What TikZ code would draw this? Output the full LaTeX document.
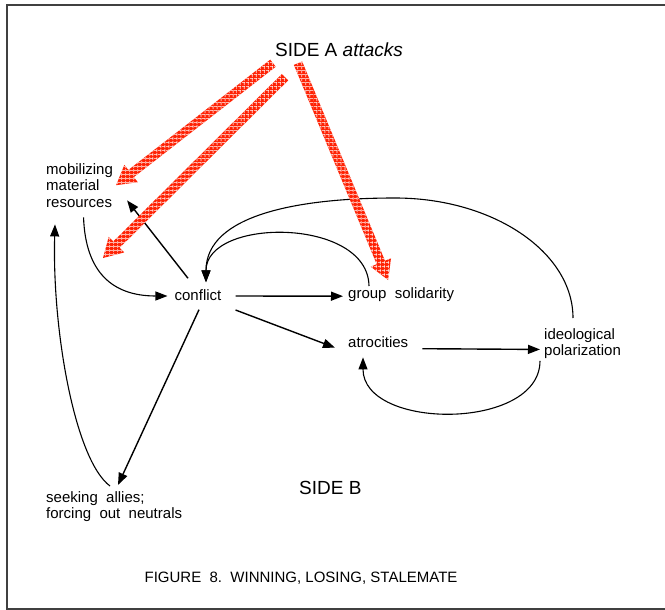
\documentclass[tikz,border=0pt]{standalone}
\usepackage{fontspec}
\setmainfont{Liberation Sans}
\usetikzlibrary{arrows.meta,calc,patterns.meta}
\definecolor{attackred}{RGB}{255,35,5}

% wide hatched arrow: #1 tail, #2 tip
\newcommand{\attackarrow}[2]{%
  \coordinate (at-tail) at #1;
  \coordinate (at-tip) at #2;
  \coordinate (at-neck) at ($(at-tip)!19pt!(at-tail)$);
  \fill[attack] ($(at-tail)!4.5pt!90:(at-tip)$) -- ($(at-neck)!4.5pt!90:(at-tip)$)
    -- ($(at-neck)!11pt!90:(at-tip)$) -- (at-tip) -- ($(at-neck)!11pt!-90:(at-tip)$)
    -- ($(at-neck)!4.5pt!-90:(at-tip)$) -- ($(at-tail)!4.5pt!-90:(at-tip)$) -- cycle;
}

\begin{document}
\begin{tikzpicture}[x=1pt, y=-1pt,
    every node/.style={inner sep=0pt},
    lbl/.style={align=left, font=\fontsize{15}{16.5}\selectfont},
    side/.style={font=\fontsize{19}{22}\selectfont},
    arr/.style={-{Triangle[length=12pt,width=9pt]}, line width=1.4pt},
    curvearr/.style={-{Triangle[length=12pt,width=9pt]}, line width=1.1pt},
    attack/.style={fill=attackred,
      postaction={pattern color=white, pattern={Lines[angle=0,distance=4pt,line width=.6pt]}},
      postaction={pattern color=white, pattern={Lines[angle=90,distance=4pt,line width=.6pt]}}},
  ]
  \useasboundingbox (0,0) rectangle (665,610);
  % frame (right edge is off the page)
  \draw[line width=1.2pt, black!75] (668,5) -- (7,5) -- (7,609) -- (668,609);

  % headings
  \node[side] (sidea) at (339,50) {SIDE A \textit{attacks}};
  \node[side, anchor=west] (sideb) at (299,488) {SIDE B};
  \node[lbl] (caption) at (301,578) {FIGURE~~8.~~WINNING, LOSING, STALEMATE};

  % factors
  \node[lbl, anchor=north west] (mob) at (46,163) {mobilizing\\material\\resources};
  \node[lbl] (conflict) at (198,295) {conflict};
  \node[lbl, anchor=north west] (gs) at (348,287) {group~~solidarity};
  \node[lbl, anchor=north west] (atro) at (348,336) {atrocities};
  \node[lbl, anchor=north west] (ideo) at (544,328) {ideological\\polarization};
  \node[lbl, anchor=north west] (seek) at (46,491) {seeking~~allies;\\forcing~~out~~neutrals};
  \coordinate (mobhit) at (103,258);

  % straight links
  \draw[arr] ($(conflict.east)+(14,1)$) -- ($(gs.west)+(-5,2)$);
  \draw[arr] ($(conflict.east)+(14,15)$) -- ($(atro.west)+(-13,6)$);
  \draw[arr] ($(atro.east)+(14,7)$) -- ($(ideo.west)+(-4,6)$);
  \draw[arr] ($(conflict.north)+(-10,-11)$) -- ($(mob.south east)+(14,-7)$);
  \draw[arr] ($(conflict.south)+(1,9)$) -- ($(seek.north west)+(72,-6)$);

  % feedback loops
  \draw[curvearr] ($(mob.south)+(4,10)$) .. controls +(2,55) and +(-55,0) .. ($(conflict.west)+(-7,1)$);
  \draw[curvearr] ($(seek.north west)+(64,-5)$) .. controls +(-35,-26) and +(-3,106) .. ($(mob.south west)+(9,17)$);
  \draw[curvearr] ($(gs.north west)+(21,-1)$) .. controls +(-1,-69) and +(0,-65) .. ($(conflict.north)+(8,-7)$);
  \draw[curvearr] ($(ideo.north west)+(29,-10)$) .. controls +(0,-66) and +(98,0) .. (395,198)
    .. controls +(-95,0) and +(0,-68) .. ($(conflict.north)+(8,-7)$);
  \draw[curvearr] ($(ideo.south west)+(-4,2)$) .. controls +(0,70) and +(0,73) .. ($(atro.south west)+(15,10)$);

  % attacks
  \attackarrow{($(sidea.south)+(-66,6)$)}{($(mob.east)+(3,0)$)}
  \attackarrow{($(sidea.south)+(-54,20)$)}{(mobhit)}
  \attackarrow{($(sidea.south)+(-41,6)$)}{($(gs.north)+(-13,-7)$)}
\end{tikzpicture}
\end{document}
